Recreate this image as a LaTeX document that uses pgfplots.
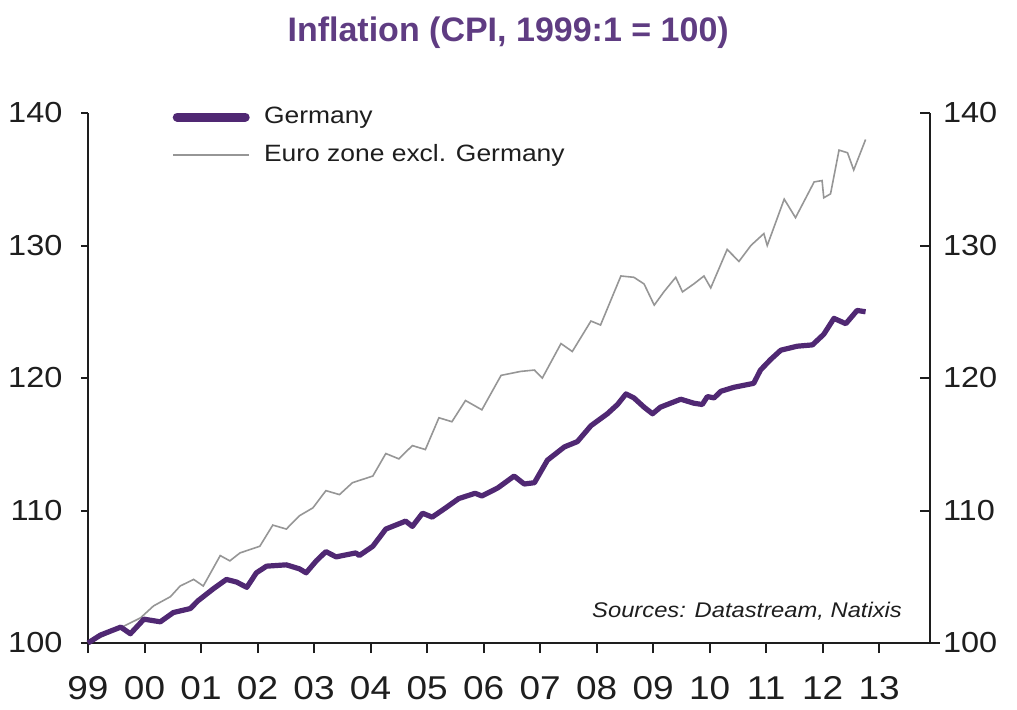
\documentclass[border=0pt]{standalone}
\usepackage{fontspec}
\setmainfont{Liberation Sans}[FakeStretch=1.12]
\newfontfamily\titlefont{Liberation Sans}
\usepackage{pgfplots}
\pgfplotsset{compat=1.18}
\usepackage{pgfplotstable}

\definecolor{ger}{RGB}{80,40,115}
\definecolor{ttl}{RGB}{95,60,130}
\definecolor{eur}{RGB}{150,150,150}
\definecolor{txt}{RGB}{30,30,30}

\pgfplotstableread{
x y
1999.00 100.0
1999.22 100.6
1999.58 101.2
1999.75 100.7
1999.99 101.8
2000.28 101.6
2000.51 102.3
2000.81 102.6
2000.95 103.2
2001.22 104.1
2001.45 104.8
2001.63 104.6
2001.81 104.2
2001.98 105.3
2002.16 105.8
2002.51 105.9
2002.74 105.6
2002.86 105.3
2003.04 106.2
2003.21 106.9
2003.39 106.5
2003.74 106.8
2003.80 106.6
2004.04 107.3
2004.27 108.6
2004.62 109.2
2004.74 108.8
2004.92 109.8
2005.09 109.5
2005.33 110.2
2005.56 110.9
2005.85 111.3
2005.97 111.1
2006.25 111.7
2006.54 112.6
2006.72 112.0
2006.90 112.1
2007.13 113.8
2007.43 114.8
2007.66 115.2
2007.90 116.4
2008.19 117.3
2008.37 118.0
2008.52 118.8
2008.66 118.5
2008.84 117.8
2008.99 117.3
2009.13 117.8
2009.49 118.4
2009.72 118.1
2009.87 118.0
2009.96 118.6
2010.08 118.5
2010.20 119.0
2010.43 119.3
2010.78 119.6
2010.90 120.6
2011.08 121.4
2011.26 122.1
2011.55 122.4
2011.82 122.5
2012.02 123.3
2012.20 124.5
2012.41 124.1
2012.61 125.1
2012.76 125.0
}\germany

\pgfplotstableread{
x y
1999.00 100.0
1999.46 100.9
1999.93 101.9
2000.16 102.8
2000.46 103.5
2000.63 104.3
2000.87 104.8
2001.04 104.3
2001.34 106.6
2001.51 106.2
2001.69 106.8
2002.04 107.3
2002.27 108.9
2002.51 108.6
2002.74 109.6
2002.98 110.2
2003.21 111.5
2003.45 111.2
2003.68 112.1
2004.04 112.6
2004.27 114.3
2004.50 113.9
2004.74 114.9
2004.97 114.6
2005.21 117.0
2005.44 116.7
2005.68 118.3
2005.97 117.6
2006.31 120.2
2006.66 120.5
2006.90 120.6
2007.04 120.0
2007.37 122.6
2007.57 122.0
2007.90 124.3
2008.07 124.0
2008.43 127.7
2008.66 127.6
2008.84 127.1
2009.02 125.5
2009.19 126.5
2009.40 127.6
2009.52 126.5
2009.72 127.1
2009.90 127.7
2010.02 126.8
2010.31 129.7
2010.52 128.8
2010.73 130.0
2010.96 130.9
2011.02 130.0
2011.32 133.5
2011.52 132.1
2011.85 134.8
2011.99 134.9
2012.02 133.6
2012.14 133.9
2012.29 137.2
2012.44 137.0
2012.55 135.7
2012.76 138.0
}\eurozone

\begin{document}
\begin{tikzpicture}
\useasboundingbox (-44pt,-33pt) rectangle (464.5pt,321.5pt);
\begin{axis}[
  scale only axis, width=421pt, height=265pt,
  xmin=1999, xmax=2013.9, ymin=100, ymax=140,
  axis x line*=bottom, axis y line*=left,
  axis line style={line width=1pt, color=txt},
  tick align=outside,
  tick style={line width=1pt, color=txt},
  x tick style={/pgfplots/major tick length=5pt},
  y tick style={/pgfplots/major tick length=3.5pt},
  xtick={1999,2000,2001,2002,2003,2004,2005,2006,2007,2008,2009,2010,2011,2012,2013},
  xticklabels={99,00,01,02,03,04,05,06,07,08,09,10,11,12,13},
  ytick={100,110,120,130,140},
  yticklabels={100,110,120,130,140},
  xticklabel style={font=\fontsize{16.5}{16.5}\selectfont, text=txt, yshift=-9pt},
  yticklabel style={font=\fontsize{14.5}{14.5}\selectfont, text=txt, xshift=-5pt},
  minor tick num=0,
  clip=false,
  reverse legend,
  legend style={at={(0.0998,1.019)}, anchor=north west, draw=none, fill=none,
    font=\fontsize{11.8}{11.8}\selectfont, text=txt, row sep=5pt,
    inner sep=0pt, nodes={inner xsep=7pt}},
  legend cell align=left,
]
\addplot[eur, line width=0.8pt,
  legend image code/.code={\draw[eur, line width=0.8pt] (0pt,0pt) -- (38pt,0pt);}]
  table[x=x,y=y] {\eurozone};
\addplot[ger, line width=2.6pt, line join=round,
  legend image code/.code={\draw[ger, line width=4.5pt, line cap=round] (2pt,0pt) -- (36pt,0pt);}]
  table[x=x,y=y] {\germany};
\legend{Euro zone excl. Germany, Germany}
\draw[txt, line width=1pt] (rel axis cs:1,0) -- ++(5pt,0pt);
\node[anchor=south east, font=\itshape\fontsize{10.6}{10.6}\selectfont, text=txt]
  at (rel axis cs:0.975,0.03) {Sources: Datastream, Natixis};
\node[anchor=center, font=\titlefont\bfseries\fontsize{17}{17}\selectfont, text=ttl]
  at (rel axis cs:0.499,1) [yshift=40pt] {Inflation (CPI, 1999:1 = 100)};
\end{axis}
\begin{axis}[
  scale only axis, width=421pt, height=265pt,
  xmin=1999, xmax=2013.9, ymin=100, ymax=140,
  axis x line=none, axis y line*=right,
  axis line style={line width=1pt, color=txt},
  tick align=inside,
  tick style={line width=1pt, color=txt},
  major tick length=5pt,
  ytick={100,110,120,130,140},
  yticklabels={100,110,120,130,140},
  yticklabel style={font=\fontsize{14.5}{14.5}\selectfont, text=txt, xshift=3pt},
]
\end{axis}
\end{tikzpicture}
\end{document}
